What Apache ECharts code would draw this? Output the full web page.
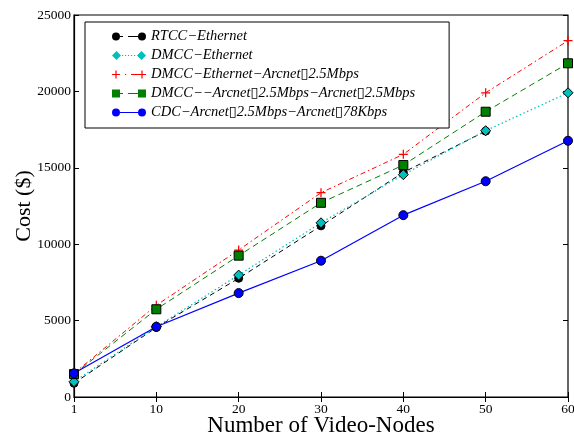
<!DOCTYPE html>
<html><head><meta charset="utf-8">
<script src="https://cdn.jsdelivr.net/npm/echarts@6/dist/echarts.min.js"></script>
<style>html,body{margin:0;padding:0;background:#fff}#c{width:574px;height:437px}</style>
</head><body><div id="c"></div>
<script>
const categories = ['1','10','20','30','40','50','60'];
const yTicks = [0,5000,10000,15000,20000,25000];
const rtccEthernet = [900, 4550, 7770, 11200, 14700, 17400, null];
const dmccEthernet = [1000, 4600, 7980, 11400, 14550, 17430, 19910];
const dmccEthArc = [1550, 6000, 9620, 13370, 15880, 19910, 23320];
const dmccArcArc = [1500, 5740, 9250, 12710, 15180, 18670, 21840];
const cdcArcArc = [1550, 4600, 6800, 8920, 11900, 14120, 16770];
const seriesNames = [
  'RTCC\u2212Ethernet',
  'DMCC\u2212Ethernet',
  'DMCC\u2212Ethernet\u2212Arcnet\u25AF2.5Mbps',
  'DMCC\u2212\u2212Arcnet\u25AF2.5Mbps\u2212Arcnet\u25AF2.5Mbps',
  'CDC\u2212Arcnet\u25AF2.5Mbps\u2212Arcnet\u25AF78Kbps'
];
const serif = '"Liberation Serif","DejaVu Serif",serif';
const plus = 'path://M4.3,0H5.7V4.3H10V5.7H5.7V10H4.3V5.7H0V4.3H4.3Z';

// legend icon shapes (two markers joined by a styled stroke)
function circ(cx){return `M${cx-4},4.5a4,4 0 1,0 8,0a4,4 0 1,0 -8,0Z`;}
function diam(cx){return `M${cx},0L${cx+4.5},4.5L${cx},9L${cx-4.5},4.5Z`;}
function sq(cx){return `M${cx-4},0.5h8v8h-8Z`;}
function pl(cx){return `M${cx-0.6},0.5h1.2v3.4h3.4v1.2h-3.4v3.4h-1.2v-3.4h-3.4v-1.2h3.4Z`;}
function seg(a,b){return `M${a},4h${b-a}v1.1h${a-b}Z`;}
const icons = [
  'path://' + circ(4) + seg(8,11) + seg(16,26) + circ(30),
  'path://' + diam(4.5) + seg(10,11.2) + seg(13,14.2) + seg(16,17.2) + seg(19,20.2) + seg(22,23.2) + diam(29.5),
  'path://M0,0.5h0.01v0.01h-0.01Z' + pl(4) + seg(13,14.2) + seg(19,26) + pl(30),
  'path://' + sq(4) + seg(8,11) + seg(16,26) + sq(30),
  'path://' + circ(4) + seg(8,26) + circ(30)
];

const chart = echarts.init(document.getElementById('c'), null, {renderer:'canvas'});
const tickStyle = {show:true, inside:true, length:5, lineStyle:{color:'#000'}};
chart.setOption({
  animation:false,
  grid:{left:74, right:6, top:15, bottom:40, show:true, borderColor:'#000', borderWidth:1.2,
        containLabel:false, outerBoundsMode:'none'},
  legend:{
    orient:'vertical', left:85, top:22,
    backgroundColor:'#fff', borderColor:'#000', borderWidth:1,
    padding:[7,34,8,27], itemGap:4, itemWidth:34, itemHeight:9,
    textStyle:{fontFamily:serif, fontStyle:'italic', fontSize:14.5, color:'#000'},
    data:seriesNames.map((n,i)=>({name:n, icon:icons[i], itemStyle:{borderWidth:0}}))
  },
  xAxis:[{
    type:'category', data:categories, boundaryGap:false,
    axisLine:{show:true, lineStyle:{color:'#000', width:1.2}},
    axisTick:Object.assign({alignWithLabel:true}, tickStyle),
    axisLabel:{fontFamily:serif, fontSize:13.5, color:'#000', margin:5},
    splitLine:{show:false},
    name:'Number of Video-Nodes', nameLocation:'middle', nameGap:17, nameMoveOverlap:false,
    nameTextStyle:{fontFamily:serif, fontSize:23, color:'#000'}
  },{
    type:'category', data:categories, boundaryGap:false, position:'top',
    axisLine:{show:false}, axisTick:tickStyle, axisLabel:{show:false}
  }],
  yAxis:[{
    type:'value', min:0, max:25000, interval:5000,
    axisLine:{show:true, lineStyle:{color:'#000', width:1.2}},
    axisTick:tickStyle,
    axisLabel:{fontFamily:serif, fontSize:13.5, color:'#000', margin:3,
      formatter:(v)=>String(v)},
    splitLine:{show:false},
    name:'Cost ($)', nameLocation:'middle', nameGap:39, nameMoveOverlap:false,
    nameTextStyle:{fontFamily:serif, fontSize:22, color:'#000'}
  },{
    type:'value', min:0, max:25000, interval:5000, position:'right',
    axisLine:{show:false}, axisTick:tickStyle, axisLabel:{show:false}, splitLine:{show:false}
  }],
  series:[
    {name:seriesNames[0], type:'line', data:rtccEthernet, symbol:'circle', symbolSize:8,
      itemStyle:{color:'#000', borderColor:'#000'}, lineStyle:{color:'#000', width:1, type:[5,4]}},
    {name:seriesNames[1], type:'line', data:dmccEthernet, symbol:'diamond', symbolSize:10,
      itemStyle:{color:'#00BFBF', borderColor:'#000', borderWidth:1}, lineStyle:{color:'#00BFBF', width:1.2, type:[1.5,2.5]}},
    {name:seriesNames[2], type:'line', data:dmccEthArc, symbol:plus, symbolSize:9,
      itemStyle:{color:'#ff0000'}, lineStyle:{color:'#ff0000', width:1, type:[5,3,1.5,3]}},
    {name:seriesNames[3], type:'line', data:dmccArcArc, symbol:'rect', symbolSize:9,
      itemStyle:{color:'#007F00', borderColor:'#000', borderWidth:1}, lineStyle:{color:'#007F00', width:1, type:[6,4]}},
    {name:seriesNames[4], type:'line', data:cdcArcArc, symbol:'circle', symbolSize:9,
      itemStyle:{color:'#0000ff', borderColor:'#000', borderWidth:1}, lineStyle:{color:'#0000ff', width:1.2}}
  ]
});
</script></body></html>
